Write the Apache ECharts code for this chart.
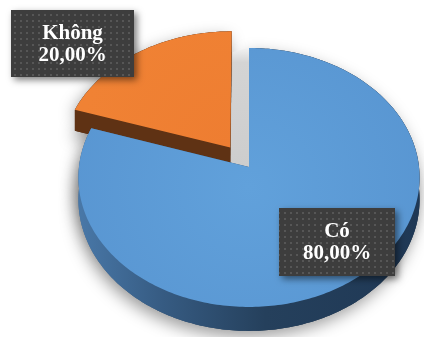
<!DOCTYPE html>
<html><head><meta charset="utf-8">
<script src="https://cdn.jsdelivr.net/npm/echarts@6/dist/echarts.min.js"></script>
<style>html,body{margin:0;padding:0;background:#fff}#c{width:424px;height:337px}</style>
</head><body><div id="c"></div>
<script>
// ---- data ----
const categories = ['Có', 'Không'];
const values = [80, 20];

// ---- style / layout (not data) ----
const G = { cx: 249, cy: 167, rx: 170, ry: 128.6, persp: -0.0811, depth: 22 };
const explode = [0, 0.19];
const topColors = ['#5B9BD5', '#EE7E32'];
const labelBoxes = [
  { cx: 337, cy: 242, w: 116, h: 68 },
  { cx: 72.5, cy: 43.5, w: 123, h: 67 }
];

const total = values.reduce((a, b) => a + b, 0);
const starts = [];
{ let acc = 0; values.forEach(v => { starts.push(acc / total * Math.PI * 2); acc += v; }); }

function fmtPct(v) { return (v / total * 100).toFixed(2).replace('.', ',') + '%'; }

// pattern for label boxes
const pat = document.createElement('canvas');
pat.width = 6; pat.height = 6;
{ const g = pat.getContext('2d'); g.fillStyle = '#3d3d3d'; g.fillRect(0, 0, 6, 6);
  g.fillStyle = '#565656'; g.fillRect(2, 2, 2, 2); }

function P(theta, r, h, e, mid) {
  const u = r * Math.sin(theta) + e * Math.sin(mid);
  const v = -r * Math.cos(theta) - e * Math.cos(mid);
  const s = 1 / (1 + G.persp * v);
  return [G.cx + G.rx * u * s, G.cy + (G.ry * v + h * G.depth) * s];
}

function arcPts(a0, a1, h, e, mid) {
  const n = Math.max(2, Math.ceil(Math.abs(a1 - a0) / (Math.PI / 180)));
  const pts = [];
  for (let k = 0; k <= n; k++) pts.push(P(a0 + (a1 - a0) * k / n, 1, h, e, mid));
  return pts;
}

const blueSide = { type: 'linear', x: 78, y: 0, x2: 419, y2: 0, global: true,
  colorStops: [{ offset: 0, color: '#4978a8' }, { offset: 0.25, color: '#365b82' },
               { offset: 0.55, color: '#25405c' }, { offset: 1, color: '#1f3855' }] };
const sideFill = [blueSide, '#5f3214'];

function renderItem(params, api) {
  const i = params.dataIndex;
  const val = api.value(0);
  const a0 = starts[i], a1 = a0 + val / total * Math.PI * 2;
  const mid = (a0 + a1) / 2, e = explode[i];
  const base = i === 0 ? 4 : 1;
  const children = [];
  const topArc = arcPts(a0, a1, 0, e, mid);
  const botArc = arcPts(a0, a1, 1, e, mid);
  const apexT = P(0, 0, 0, e, mid), apexB = P(0, 0, 1, e, mid);
  const topPoly = [apexT].concat(topArc);
  const botPoly = [apexB].concat(botArc);
  // shadow silhouettes
  [topPoly, botPoly].forEach(pp => children.push({ type: 'polygon', z2: -10, shape: { points: pp },
    style: { fill: '#7a7a7a', shadowBlur: 16, shadowColor: 'rgba(0,0,0,0.38)', shadowOffsetX: -3, shadowOffsetY: 6 } }));
  // sides
  children.push({ type: 'polygon', z2: base, shape: { points: botPoly }, style: { fill: sideFill[i] } });
  children.push({ type: 'polygon', z2: base, shape: { points: topArc.concat(botArc.slice().reverse()) }, style: { fill: sideFill[i] } });
  [a0, a1].forEach(a => children.push({ type: 'polygon', z2: base,
    shape: { points: [apexT, P(a, 1, 0, e, mid), P(a, 1, 1, e, mid), apexB] }, style: { fill: sideFill[i] } }));
  // top face
  const topFill = i === 0
    ? { type: 'radial', x: apexT[0], y: apexT[1] + 20, r: 200, global: true,
        colorStops: [{ offset: 0, color: '#61a1db' }, { offset: 1, color: '#5895d1' }] }
    : { type: 'radial', x: apexT[0], y: apexT[1], r: 150, global: true,
        colorStops: [{ offset: 0, color: '#ee7d31' }, { offset: 1, color: '#f08234' }] };
  children.push({ type: 'polygon', z2: base + 1, shape: { points: topPoly }, style: { fill: topFill } });
  // gap wall (grey) visible next to exploded neighbour
  if (i === 0) {
    const nIdx = values.length - 1;
    const nMid = (starts[nIdx] + Math.PI * 2) / 2;
    const oTop = P(Math.PI * 2, 1, 0, explode[nIdx], nMid);
    const oApexB = P(0, 0, 1, explode[nIdx], nMid);
    const bTop = P(a0, 1, 0, 0, mid);
    children.push({ type: 'polygon', z2: 0,
      shape: { points: [bTop, apexT, oApexB, [oTop[0] + 1, bTop[1] + 4]] },
      style: { fill: { type: 'linear', x: 0, y: bTop[1], x2: 0, y2: apexT[1], global: true,
        colorStops: [{ offset: 0, color: '#f2f2f2' }, { offset: 0.12, color: '#d4d4d4' }, { offset: 1, color: '#cdcdcd' }] } } });
  }
  // label
  const lb = labelBoxes[i];
  children.push({ type: 'rect', z2: 50, shape: { x: lb.cx - lb.w / 2, y: lb.cy - lb.h / 2, width: lb.w, height: lb.h },
    style: { fill: { image: pat, repeat: 'repeat' }, shadowBlur: 7, shadowColor: 'rgba(0,0,0,0.5)', shadowOffsetX: 3, shadowOffsetY: 3 } });
  children.push({ type: 'text', z2: 51, x: lb.cx, y: lb.cy + 1,
    style: { text: categories[i] + '\n' + fmtPct(val), fill: '#ffffff', fontSize: 21, fontWeight: 'bold',
      fontFamily: '"Liberation Serif", "Times New Roman", serif', align: 'center', verticalAlign: 'middle', lineHeight: 22 } });
  return { type: 'group', children };
}

const chart = echarts.init(document.getElementById('c'), null, { renderer: 'canvas' });
chart.setOption({
  animation: false,
  backgroundColor: '#ffffff',
  series: [{ type: 'custom', coordinateSystem: 'none', renderItem, data: values.map(v => [v]) }]
});
</script></body></html>
